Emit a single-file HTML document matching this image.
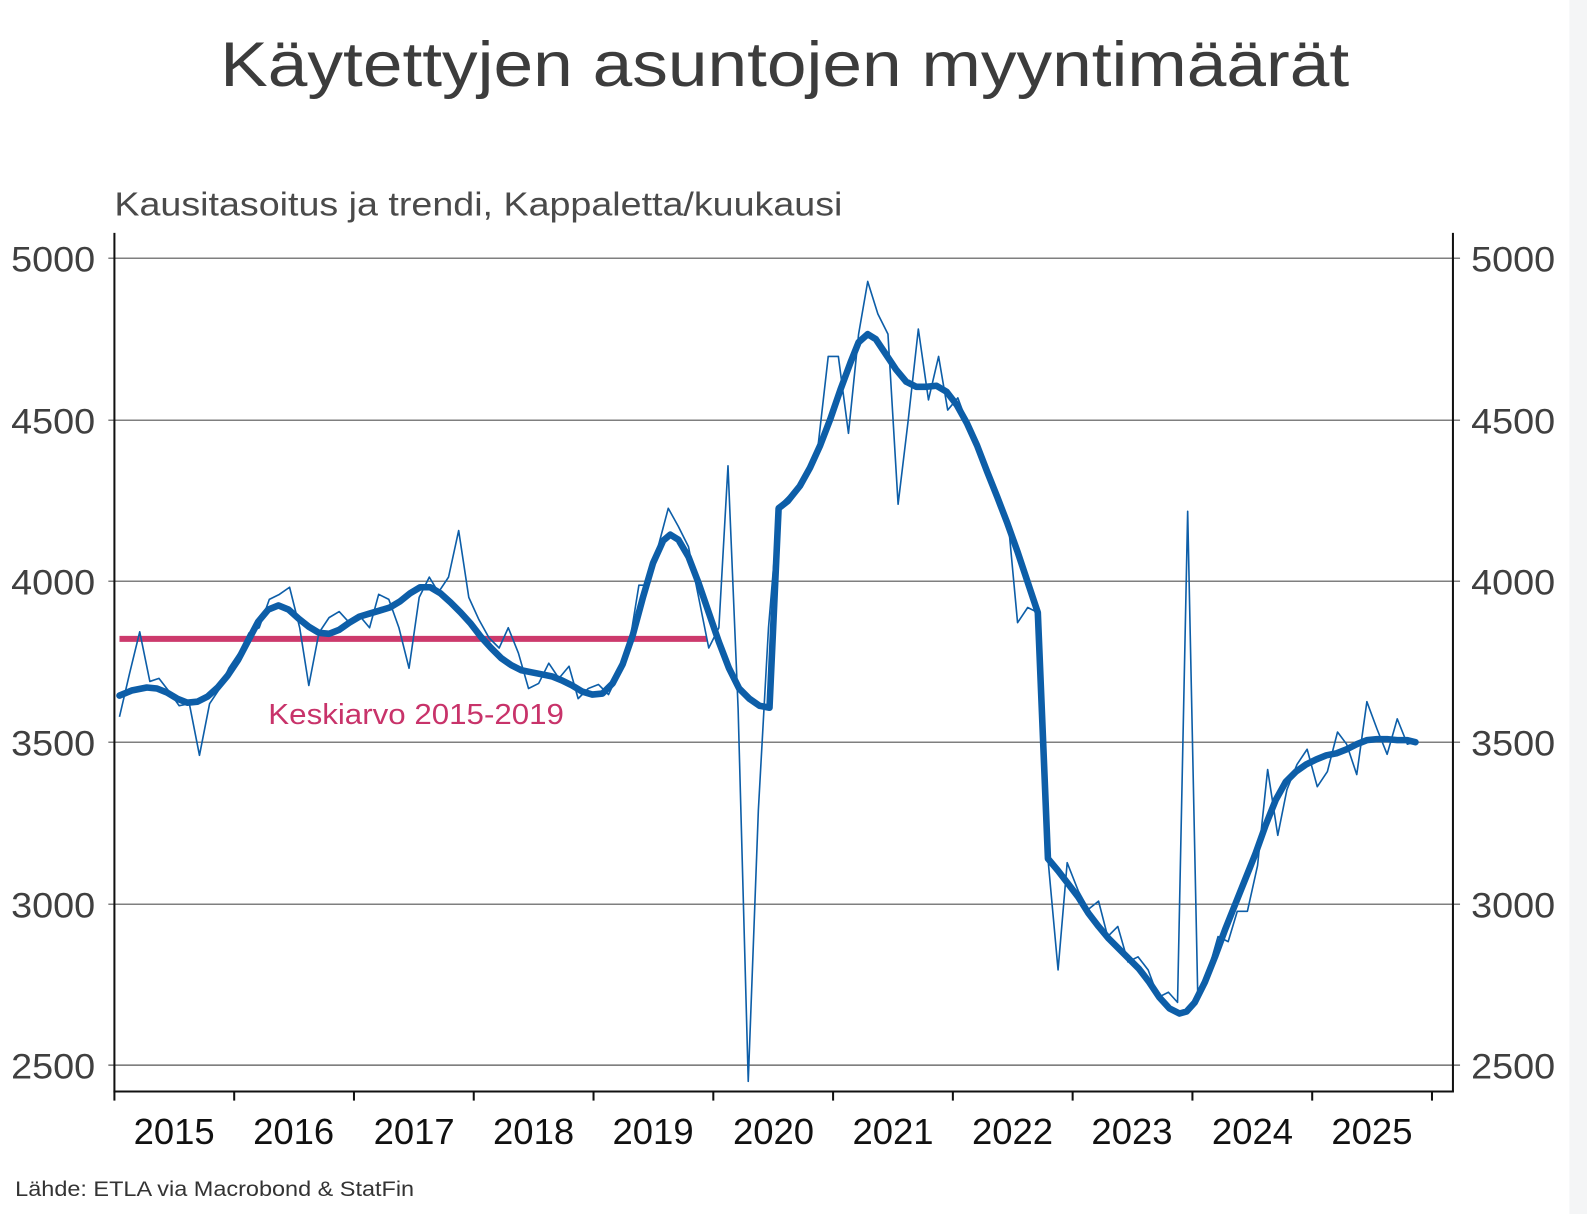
<!DOCTYPE html>
<html><head><meta charset="utf-8"><style>
html,body{margin:0;padding:0;background:#fff;}
svg{display:block;}
text{font-family:"Liberation Sans",sans-serif;}
</style></head><body>
<svg width="1587" height="1214" viewBox="0 0 1567.4 1199" preserveAspectRatio="none" xmlns="http://www.w3.org/2000/svg">
<rect x="0" y="0" width="1567.4" height="1199" fill="#fff"/>
<rect x="1550" y="0" width="20" height="1199" fill="#f4f5f6"/>
<text x="775" y="85" font-size="62" fill="#3c3c3c" text-anchor="middle" textLength="1115" lengthAdjust="spacingAndGlyphs">Käytettyjen asuntojen myyntimäärät</text>
<text x="113" y="213" font-size="33" fill="#4a4a4a" textLength="719" lengthAdjust="spacingAndGlyphs">Kausitasoitus ja trendi, Kappaletta/kuukausi</text>
<g stroke="#555" stroke-width="1.2">
<line x1="107" y1="255" x2="1442" y2="255"/>
<line x1="107" y1="415" x2="1442" y2="415"/>
<line x1="107" y1="574" x2="1442" y2="574"/>
<line x1="107" y1="733" x2="1442" y2="733"/>
<line x1="107" y1="893" x2="1442" y2="893"/>
<line x1="107" y1="1052" x2="1442" y2="1052"/>
</g>
<g stroke="#111" stroke-width="2">
<line x1="113" y1="230" x2="113" y2="1078"/>
<line x1="1435" y1="230" x2="1435" y2="1078"/>
<line x1="112" y1="1078" x2="1436" y2="1078"/>
<line x1="113" y1="1078" x2="113" y2="1087"/><line x1="231.3" y1="1078" x2="231.3" y2="1087"/><line x1="349.6" y1="1078" x2="349.6" y2="1087"/><line x1="467.9" y1="1078" x2="467.9" y2="1087"/><line x1="586.2" y1="1078" x2="586.2" y2="1087"/><line x1="704.5" y1="1078" x2="704.5" y2="1087"/><line x1="822.8" y1="1078" x2="822.8" y2="1087"/><line x1="941.1" y1="1078" x2="941.1" y2="1087"/><line x1="1059.4" y1="1078" x2="1059.4" y2="1087"/><line x1="1177.7" y1="1078" x2="1177.7" y2="1087"/><line x1="1296" y1="1078" x2="1296" y2="1087"/><line x1="1414.3" y1="1078" x2="1414.3" y2="1087"/>
</g>
<g font-size="35" fill="#404040" text-anchor="end">
<text x="94" y="268" textLength="83" lengthAdjust="spacingAndGlyphs">5000</text><text x="94" y="428" textLength="83" lengthAdjust="spacingAndGlyphs">4500</text><text x="94" y="587" textLength="83" lengthAdjust="spacingAndGlyphs">4000</text><text x="94" y="746" textLength="83" lengthAdjust="spacingAndGlyphs">3500</text><text x="94" y="906" textLength="83" lengthAdjust="spacingAndGlyphs">3000</text><text x="94" y="1065" textLength="83" lengthAdjust="spacingAndGlyphs">2500</text>
</g>
<g font-size="35" fill="#404040">
<text x="1453" y="268" textLength="83" lengthAdjust="spacingAndGlyphs">5000</text><text x="1453" y="428" textLength="83" lengthAdjust="spacingAndGlyphs">4500</text><text x="1453" y="587" textLength="83" lengthAdjust="spacingAndGlyphs">4000</text><text x="1453" y="746" textLength="83" lengthAdjust="spacingAndGlyphs">3500</text><text x="1453" y="906" textLength="83" lengthAdjust="spacingAndGlyphs">3000</text><text x="1453" y="1065" textLength="83" lengthAdjust="spacingAndGlyphs">2500</text>
</g>
<g font-size="36" fill="#111" text-anchor="middle">
<text x="172" y="1130">2015</text><text x="290" y="1130">2016</text><text x="409" y="1130">2017</text><text x="527" y="1130">2018</text><text x="645" y="1130">2019</text><text x="764" y="1130">2020</text><text x="882" y="1130">2021</text><text x="1000" y="1130">2022</text><text x="1118" y="1130">2023</text><text x="1237" y="1130">2024</text><text x="1355" y="1130">2025</text>
</g>
<text x="15" y="1181" font-size="21" fill="#333" textLength="394" lengthAdjust="spacingAndGlyphs">Lähde: ETLA via Macrobond &amp; StatFin</text>
<line x1="118" y1="631" x2="698" y2="631" stroke="#cc3a6c" stroke-width="6"/>
<text x="265" y="715" font-size="28" fill="#c8336a" textLength="292" lengthAdjust="spacingAndGlyphs">Keskiarvo 2015-2019</text>
<polyline fill="none" stroke="#0d5ea8" stroke-width="1.6" stroke-linejoin="round" points="118,708 128,665 138,624 148,673 157,670 167,683 177,697 187,695 197,746 207,695 217,680 226,660 236,645 246,625 256,620 266,592 276,587 286,580 296,620 305,677 315,625 325,610 335,604 345,615 355,608 365,620 374,587 384,592 394,620 404,660 414,590 424,570 433,585 443,570 453,524 463,590 473,612 483,630 493,640 502,620 512,645 522,680 532,675 542,655 552,670 562,658 571,690 581,680 591,676 601,686 611,665 621,640 631,578 640,578 650,540 660,502 670,520 680,540 690,590 700,640 710,620 719,460 729,700 739,1068 749,800 759,620 769,500 779,490 789,478 798,470 808,440 818,352 828,352 838,428 848,330 857,278 867,310 877,330 887,498 897,415 907,325 917,395 927,352 936,405 946,393 956,420 966,445 976,470 986,500 996,518 1005,615 1015,600 1025,605 1035,848 1045,958 1054,852 1065,880 1075,898 1085,890 1094,925 1104,915 1114,950 1124,945 1134,958 1144,985 1154,980 1163,990 1173,505 1183,985 1193,960 1203,925 1213,930 1222,900 1232,900 1242,855 1252,760 1262,825 1271,780 1281,755 1291,740 1301,777 1311,762 1321,723 1330,735 1340,765 1350,693 1360,720 1370,745 1380,710 1390,735 1399,732"/>
<polyline fill="none" stroke="#0d5ea8" stroke-width="6.5" stroke-linejoin="round" stroke-linecap="round" points="118,687 130,682 145,679 155,680 165,684 175,690 185,694 195,693 205,688 215,679 225,667 235,652 245,633 255,614 265,602 275,598 285,602 295,611 305,619 315,625 325,626 335,622 345,615 355,609 365,606 375,603 385,600 395,594 405,586 415,580 425,580 435,586 445,595 455,605 465,616 475,629 485,640 495,650 505,657 515,662 525,664 535,666 545,668 555,672 565,677 575,683 585,686 595,685 605,675 615,656 625,627 635,590 645,556 655,534 662,528 670,533 680,550 690,576 700,605 710,634 720,660 730,680 740,690 750,697 760,699 769,502 778,495 790,480 800,462 810,440 820,414 830,385 840,358 848,338 857,330 865,335 875,350 885,365 895,377 905,382 915,382 925,381 935,387 945,400 955,418 965,440 975,466 985,491 995,517 1005,545 1015,575 1025,605 1035,848 1045,860 1055,873 1065,886 1075,902 1085,915 1095,927 1105,937 1115,947 1125,957 1135,970 1145,985 1155,996 1165,1001 1172,999 1180,990 1190,970 1200,945 1210,918 1220,893 1230,868 1240,843 1250,815 1260,790 1270,772 1280,762 1290,755 1300,750 1310,746 1320,744 1330,740 1340,735 1350,731 1360,730 1370,730 1380,731 1390,731 1398,733"/>
</svg>
</body></html>
